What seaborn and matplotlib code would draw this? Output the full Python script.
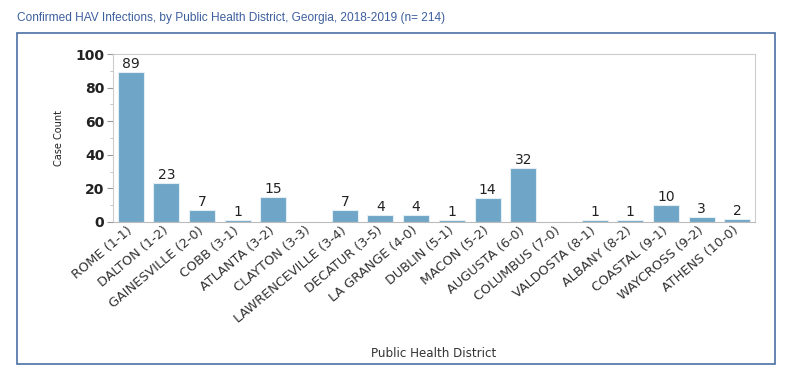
import matplotlib
matplotlib.use("Agg")
import matplotlib.pyplot as plt
import seaborn as sns
import pandas as pd
from matplotlib.patches import Rectangle
from matplotlib.ticker import MultipleLocator

districts = ["ROME (1-1)", "DALTON (1-2)", "GAINESVILLE (2-0)", "COBB (3-1)", "ATLANTA (3-2)",
             "CLAYTON (3-3)", "LAWRENCEVILLE (3-4)", "DECATUR (3-5)", "LA GRANGE (4-0)",
             "DUBLIN (5-1)", "MACON (5-2)", "AUGUSTA (6-0)", "COLUMBUS (7-0)", "VALDOSTA (8-1)",
             "ALBANY (8-2)", "COASTAL (9-1)", "WAYCROSS (9-2)", "ATHENS (10-0)"]
cases = [89, 23, 7, 1, 15, 0, 7, 4, 4, 1, 14, 32, 0, 1, 1, 10, 3, 2]

sns.set_theme(style="white")
plt.rcParams['font.family'] = ['DejaVu Sans']

df = pd.DataFrame({"district": districts, "cases": cases})

fig = plt.figure(figsize=(8, 3.85), dpi=100)
ax = fig.add_axes([0.141, 0.4234, 0.803, 0.4363])

sns.barplot(data=df, x="district", y="cases", color="#6fa5c6", saturation=1,
            width=0.73, edgecolor="#e3eef5", linewidth=0.8, ax=ax)

for i, v in enumerate(cases):
    if v > 0:
        ax.text(i, v + 0.6, str(v), ha="center", va="bottom", fontsize=10, color="#222222")

ax.set_ylim(0, 100)
ax.set_xlim(-0.5, len(districts) - 0.5)
ax.yaxis.set_major_locator(MultipleLocator(20))
ax.yaxis.set_minor_locator(MultipleLocator(10))
ax.tick_params(axis="y", which="major", length=4, width=0.8, color="#999999",
               labelsize=10, labelcolor="#222222", pad=2, left=True)
ax.tick_params(axis="y", which="minor", length=2.5, width=0.6, color="#bbbbbb", left=True)
ax.tick_params(axis="x", length=0, labelsize=9.3, labelcolor="#333333", pad=5)
for lbl in ax.get_yticklabels():
    lbl.set_fontweight("semibold")
ax.set_xticks(range(len(districts)))
ax.set_xticklabels(districts, rotation=40, ha="right", va="center", rotation_mode="anchor")

for s in ax.spines.values():
    s.set_color("#cccccc")
    s.set_linewidth(0.8)
ax.spines["bottom"].set_color("#bbbbbb")

ax.set_ylabel("Case Count", fontsize=7, color="#222222", labelpad=8)
ax.set_xlabel("")
fig.text(0.542, 0.083, "Public Health District", ha="center", va="center",
         fontsize=8.6, color="#333333")

fig.text(0.021, 0.953, "Confirmed HAV Infections, by Public Health District, Georgia, 2018-2019 (n= 214)",
         ha="left", va="center", fontsize=8.6, color="#3d5f9e",
         family=["Liberation Sans", "DejaVu Sans"])

fig.patches.append(Rectangle((0.0215, 0.054), 0.947, 0.86, transform=fig.transFigure,
                             fill=False, edgecolor="#4a6fa5", linewidth=1.2))

fig.savefig("out.png", dpi=100)
